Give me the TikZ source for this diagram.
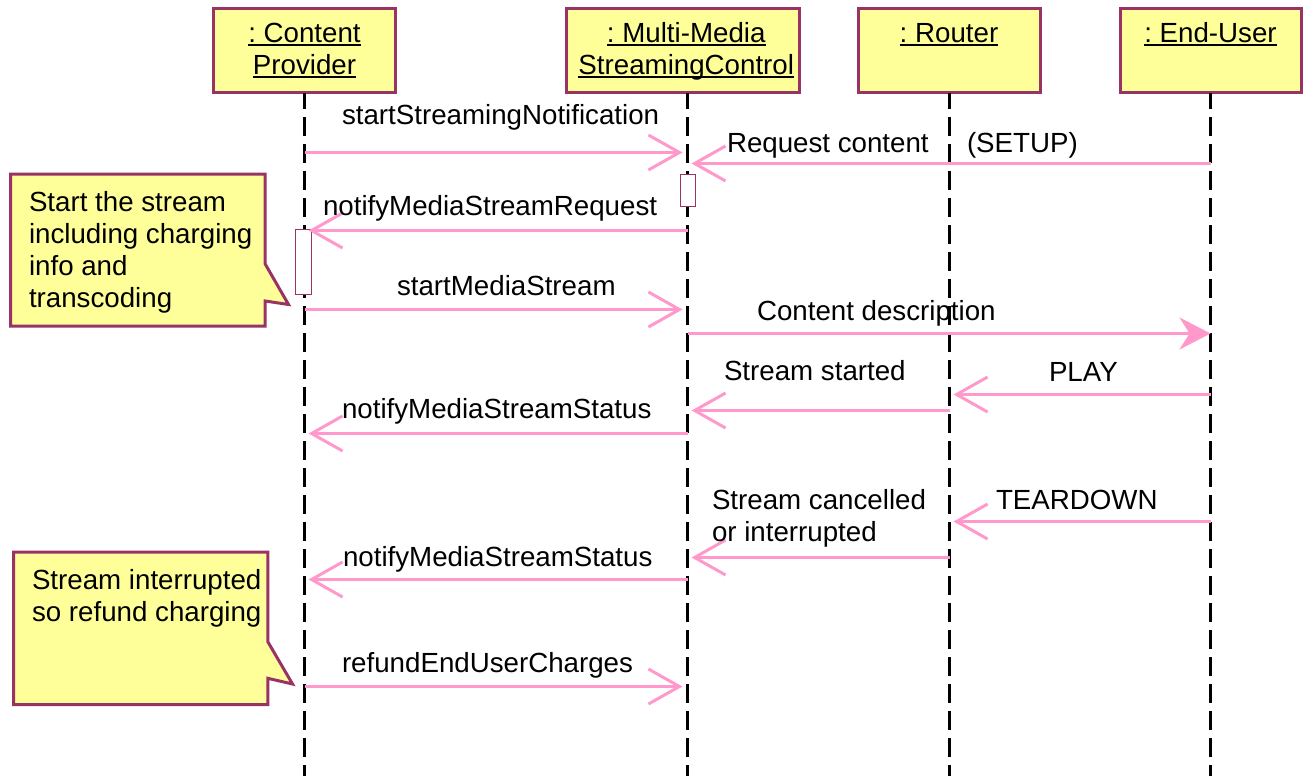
\documentclass[tikz,border=0pt]{standalone}
\usepackage{fontspec}
\setmainfont{Liberation Sans}
\frenchspacing
\usetikzlibrary{arrows.meta}
\definecolor{umlfill}{HTML}{FFFF99}
\definecolor{umlline}{HTML}{993366}
\definecolor{msgline}{HTML}{FF99CC}
\newcommand\ulfirst[1]{\rule{0pt}{23pt}\setbox0\hbox{#1}\rlap{\rule[-3.8pt]{\wd0}{2.4pt}}\box0}
\newcommand\ullast[1]{\rule[-7pt]{0pt}{7pt}\setbox0\hbox{#1}\rlap{\rule[-3.8pt]{\wd0}{2.4pt}}\box0}
\tikzset{
  x=1pt,y=-1pt,
  txt/.style={font=\frenchspacing\fontsize{27.7}{32}\selectfont,inner sep=0pt,outer sep=0pt,text=black},
  lab/.style={txt,anchor=base west},
  head/.style={txt,draw=umlline,fill=umlfill,line width=3pt,minimum height=84.3pt,align=center,anchor=center},
  life/.style={draw=black,line width=2.8pt,dash pattern=on 19pt off 8pt,dash phase=3pt},
  act/.style={draw=umlline,fill=white,line width=1pt,inner sep=0pt,minimum width=15pt},
  msg/.style={draw=msgline,line width=3pt,-{Straight Barb[length=31pt,width=35pt,line width=3pt]}},
  msgfill/.style={draw=msgline,line width=3pt,-{Stealth[length=31pt,width=32pt,inset=10pt]}},
  notebox/.style={draw=umlline,fill=umlfill,line width=3pt,line join=miter},
}
\begin{document}
\begin{tikzpicture}
\useasboundingbox (0,0) rectangle (1305,776);
% heads
\node[head,minimum width=182.6pt] (cp) at (304.5,50.3) {\ulfirst{: Content}\\\ullast{Provider}};
\node[head,minimum width=233.5pt] (ms) at (683,50.3) {\hspace*{6.5pt}\ulfirst{: Multi-Media}\\\hspace*{6.5pt}\ullast{StreamingControl}};
\node[head,minimum width=182pt] (ro) at (949,50.3) {\ulfirst{: Router}\\\rule[-7pt]{0pt}{7pt}};
\node[head,minimum width=181pt] (eu) at (1210.5,50.3) {\ulfirst{: End-User}\\\rule[-7pt]{0pt}{7pt}};
% lifeline anchors
\coordinate (lcp) at (304.5,93); \coordinate (lms) at (687.5,93);
\coordinate (lro) at (949.5,93); \coordinate (leu) at (1210.5,93);
\coordinate (ecp) at (304.5,776); \coordinate (ems) at (687.5,776);
\coordinate (ero) at (949.5,776); \coordinate (eeu) at (1210.5,776);
\draw[life] (lcp) -- (ecp);
\draw[life] (lms) -- (ems);
\draw[life] (lro) -- (ero);
\draw[life] (leu) -- (eeu);
% activations
\node[act,minimum height=32pt] (a1) at (688,190) {};
\node[act,minimum width=16pt,minimum height=65pt] (a2) at (303,262) {};
% message end points
\foreach \n/\l/\y in {m1a/lcp/152,m1b/lms/152,m2a/leu/163,m2b/lms/163,m3a/lms/230,m3b/lcp/230,
  m4a/lcp/309,m4b/lms/309,m5a/lms/333,m5b/leu/333,m6a/leu/394,m6b/lro/394,m7a/lro/410,m7b/lms/410,
  m8a/lms/433,m8b/lcp/433,m9a/leu/521,m9b/lro/521,m10a/lro/557,m10b/lms/557,m11a/lms/579,m11b/lcp/579,
  m12a/lcp/686,m12b/lms/686}
  {\coordinate (\n) at (\l |- 0,\y.5);}
\draw[msg,shorten >=5pt] (m1a) -- (m1b);
\draw[msg,shorten >=4pt] (m2a) -- (m2b);
\draw[msg,shorten >=4pt] (m3a) -- (m3b);
\draw[msg,shorten >=5pt] (m4a) -- (m4b);
\draw[msgfill] (m5a) -- (m5b);
\draw[msg,shorten >=4pt] (m6a) -- (m6b);
\draw[msg,shorten >=4pt] (m7a) -- (m7b);
\draw[msg,shorten >=4pt] (m8a) -- (m8b);
\draw[msg,shorten >=4pt] (m9a) -- (m9b);
\draw[msg,shorten >=4pt] (m10a) -- (m10b);
\draw[msg,shorten >=4pt] (m11a) -- (m11b);
\draw[msg,shorten >=5pt] (m12a) -- (m12b);
% notes
\draw[notebox] (10.7,174) -- (265.2,174) -- (265.2,264) -- (288.5,304.5) -- (265.2,301) -- (265.2,326) -- (10.7,326) -- cycle;
\draw[notebox] (13.5,552.2) -- (267.8,552.2) -- (267.8,641.7) -- (292.5,684) -- (267.8,678.3) -- (267.8,704.5) -- (13.5,704.5) -- cycle;
% labels
\node[lab] (t1) at (342,124) {startStreamingNotification};
\node[lab] (t2) at (727,152) {Request content};
\node[lab] (t3) at (967,152) {(SETUP)};
\node[lab] (t4) at (323,215) {notifyMediaStreamRequest};
\node[lab] (t5) at (397,295) {startMediaStream};
\node[lab] (t6) at (757,320) {Content description};
\node[lab] (t7) at (724,380) {Stream started};
\node[lab] (t8) at (1049,381) {PLAY};
\node[lab] (t9) at (342,418) {notifyMediaStreamStatus};
\node[lab] (t10) at (712,509) {Stream cancelled};
\node[lab] (t11) at (712,541) {or interrupted};
\node[lab] (t12) at (996,509) {TEARDOWN};
\node[lab] (t13) at (343,566) {notifyMediaStreamStatus};
\node[lab] (t14) at (342,672) {refundEndUserCharges};
\node[lab] (n1) at (29,211) {Start the stream};
\node[lab] (n2) at (29,243) {including charging};
\node[lab] (n3) at (29,275) {info and};
\node[lab] (n4) at (29,307) {transcoding};
\node[lab] (n5) at (32,589) {Stream interrupted};
\node[lab] (n6) at (32,621) {so refund charging};
\end{tikzpicture}
\end{document}
